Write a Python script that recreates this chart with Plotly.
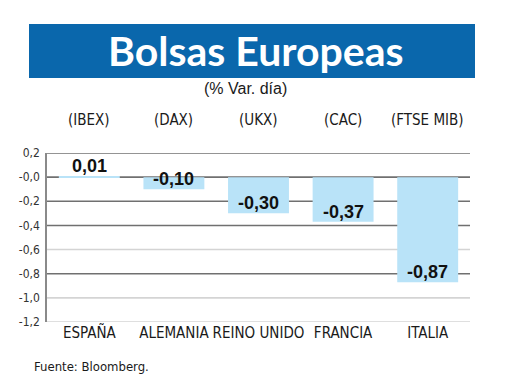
import plotly.graph_objects as go

# ---- data ----
countries = ["ESPAÑA", "ALEMANIA", "REINO UNIDO", "FRANCIA", "ITALIA"]
tickers = ["(IBEX)", "(DAX)", "(UKX)", "(CAC)", "(FTSE MIB)"]
values = [0.01, -0.10, -0.30, -0.37, -0.87]
value_labels = ["0,01", "-0,10", "-0,30", "-0,37", "-0,87"]
ytick_vals = [0.2, 0.0, -0.2, -0.4, -0.6, -0.8, -1.0, -1.2]
ytick_text = ["0,2", "-0,0", "-0,2", "-0,4", "-0,6", "-0,8", "-1,0", "-1,2"]
title_text = "Bolsas Europeas"
subtitle_text = "(% Var. día)"
source_text = "Fuente: Bloomberg."

# ---- layout geometry (pixels) ----
W, H = 520, 390
L, R, T, B = 47, 50, 153, 68
PW, PH = W - L - R, H - T - B

def px_x(x):
    return (x - L) / PW

def px_y(y):
    return (H - B - y) / PH

NARROW = "DejaVu Sans Condensed, Liberation Sans Narrow, sans-serif"
ARIAL = "Liberation Sans, Arial, sans-serif"
BAR = "#B9E3F8"

fig = go.Figure()
fig.add_trace(go.Bar(
    x=countries, y=values, marker=dict(color=BAR, line=dict(width=0)),
    width=0.72, hoverinfo="skip",
))

shapes = []
dark = {0.2, 0.0, -0.2, -0.4, -0.8}
for v in ytick_vals:
    shapes.append(dict(
        type="line", xref="paper", yref="y", x0=0, x1=1, y0=v, y1=v,
        line=dict(color="#707070" if v in dark else "#d4d4d4", width=1.6),
        layer="below",
    ))
# title banner
shapes.append(dict(
    type="rect", xref="paper", yref="paper",
    x0=px_x(29), x1=px_x(475), y0=px_y(78), y1=px_y(24),
    fillcolor="#0A67AC", line=dict(width=0), layer="above",
))

annotations = []
annotations.append(dict(
    text="<b>" + title_text + "</b>", xref="paper", yref="paper",
    x=px_x(256), y=px_y(50), showarrow=False, xanchor="center", yanchor="middle",
    font=dict(family="Lato, Open Sans, sans-serif", size=41, color="white"),
))
annotations.append(dict(
    text=subtitle_text, xref="paper", yref="paper",
    x=px_x(245), y=px_y(88), showarrow=False, xanchor="center", yanchor="middle",
    font=dict(family=ARIAL, size=16, color="#1a1a1a"),
))
for c, t in zip(countries, tickers):
    annotations.append(dict(
        text=t, xref="x", yref="paper", x=c, y=px_y(120),
        showarrow=False, xanchor="center", yanchor="middle",
        font=dict(family=NARROW, size=15, color="#1a1a1a"),
    ))
for c, v, lab in zip(countries, values, value_labels):
    annotations.append(dict(
        text="<b>" + lab + "</b>", xref="x", yref="y", x=c, y=v,
        showarrow=False, xanchor="center", yanchor="bottom", yshift=-2,
        font=dict(family=ARIAL, size=18, color="#111111"),
    ))
annotations.append(dict(
    text=source_text, xref="paper", yref="paper",
    x=px_x(32), y=px_y(366), showarrow=False, xanchor="left", yanchor="middle",
    font=dict(family=NARROW, size=13, color="#1a1a1a"),
))

fig.update_layout(
    width=W, height=H,
    margin=dict(l=L, r=R, t=T, b=B, pad=0, autoexpand=False),
    paper_bgcolor="white", plot_bgcolor="white",
    showlegend=False, bargap=0.28,
    shapes=shapes, annotations=annotations,
    xaxis=dict(
        showgrid=False, zeroline=False, showline=False, ticks="",
        tickangle=0, automargin=False,
        tickfont=dict(family=NARROW, size=15, color="#1a1a1a"),
        range=[-0.5, 4.5], fixedrange=True,
    ),
    yaxis=dict(
        range=[-1.2, 0.2], tickvals=ytick_vals, ticktext=ytick_text,
        showgrid=False, zeroline=False, showline=True, linecolor="#8a8a8a",
        linewidth=1.6, ticks="", ticklabelstandoff=3, automargin=False,
        tickfont=dict(family=NARROW, size=12, color="#333333"),
        fixedrange=True,
    ),
)

fig.write_html(
    "out.html",
    config={"displayModeBar": False},
    post_script="document.body.style.margin='0px';document.body.style.overflow='hidden';",
)
